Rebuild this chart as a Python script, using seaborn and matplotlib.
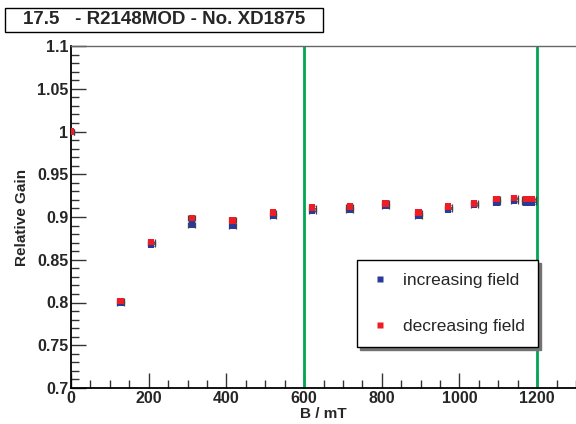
import numpy as np
import pandas as pd
import matplotlib
matplotlib.use("Agg")
import matplotlib.pyplot as plt
import seaborn as sns
from matplotlib.patches import Rectangle
from matplotlib.ticker import MultipleLocator

# valores
campo = [0, 128, 206, 311, 416, 520, 621, 718, 809, 895, 971, 1038, 1096, 1141, 1171, 1187]
ganho_sobe = [1.000, 0.800, 0.868, 0.891, 0.890, 0.901, 0.907, 0.908, 0.913, 0.901, 0.909, 0.914, 0.917, 0.919, 0.917, 0.917]
ganho_desce = [1.000, 0.802, 0.871, 0.899, 0.896, 0.905, 0.911, 0.912, 0.916, 0.905, 0.912, 0.916, 0.921, 0.922, 0.921, 0.921]
linhas_verdes = [600, 1200]
titulo = "17.5   - R2148MOD - No. XD1875"

df = pd.DataFrame({
    "B": campo * 2,
    "Gain": ganho_sobe + ganho_desce,
    "Serie": ["increasing field"] * len(campo) + ["decreasing field"] * len(campo),
})

sns.set_style("ticks")
plt.rcParams["font.family"] = ["Liberation Sans", "DejaVu Sans"]

fig = plt.figure(figsize=(5.76, 4.24), dpi=100)
ax = fig.add_axes([71 / 576, 1 - 388 / 424, 505 / 576, 342 / 424])

# barras de erro pequenas (estilo ROOT)
for ys in [ganho_sobe, ganho_desce]:
    ax.errorbar(campo, ys, xerr=9, yerr=0.0015, fmt="none", ecolor="#444444",
                elinewidth=0.6, capsize=2, capthick=0.9, zorder=2)

sns.scatterplot(data=df, x="B", y="Gain", hue="Serie", marker="s", s=22,
                palette={"increasing field": "#2b3a98", "decreasing field": "#ee1c25"},
                edgecolor="none", ax=ax, zorder=3, legend=True)

for xv in linhas_verdes:
    ax.axvline(xv, color="#00a651", lw=2, zorder=1)

ax.set_xlim(0, 1300)
ax.set_ylim(0.7, 1.1)
ax.xaxis.set_major_locator(MultipleLocator(200))
ax.xaxis.set_minor_locator(MultipleLocator(50))
ax.yaxis.set_minor_locator(MultipleLocator(0.01))
ax.set_yticks([0.7, 0.75, 0.8, 0.85, 0.9, 0.95, 1.0, 1.05, 1.1])
ax.set_yticklabels(["0.7", "0.75", "0.8", "0.85", "0.9", "0.95", "1", "1.05", "1.1"])
ax.tick_params(axis="both", which="major", direction="in", length=11, width=1, color="#333333",
               labelsize=11.5, pad=2)
ax.tick_params(axis="both", which="minor", direction="in", length=6, width=1, color="#333333")
for lab in ax.get_xticklabels() + ax.get_yticklabels():
    lab.set_fontweight("bold")

for s in ["left", "bottom"]:
    ax.spines[s].set_color("black")
    ax.spines[s].set_linewidth(1.3)
ax.spines["top"].set_color("#666666")
ax.spines["top"].set_linewidth(1)
ax.spines["right"].set_visible(False)

ax.set_xlabel("B / mT", fontsize=11, fontweight="bold", labelpad=1)
ax.set_ylabel("Relative Gain", fontsize=11, fontweight="bold", labelpad=6)

leg = ax.legend(loc="upper left", bbox_to_anchor=(0.566, 0.374), fontsize=12.5,
                frameon=True, fancybox=False, shadow={"color": "0.45", "alpha": 1},
                edgecolor="black", markerscale=0.8, handlelength=1.15, handletextpad=0.75,
                labelspacing=1.75, borderpad=0.75, borderaxespad=0)
leg.get_frame().set_linewidth(1)

# caixa do título
fig.patches.append(Rectangle((5 / 576, 1 - 32 / 424), 318 / 576, 24 / 424,
                             transform=fig.transFigure, fc="white", ec="black", lw=1))
fig.text(23 / 576, 1 - 20 / 424, titulo, fontsize=13.5, fontweight="bold",
         va="center", ha="left")

fig.savefig("out.png", dpi=100)
